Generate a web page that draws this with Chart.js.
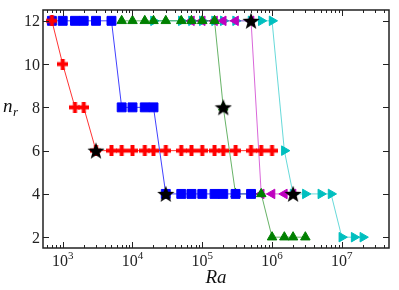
<!DOCTYPE html>
<html>
<head>
<meta charset="utf-8">
<script src="https://cdn.jsdelivr.net/npm/chart.js@4"></script>
<style>
  body { margin: 0; background: #fff; }
  #wrap { width: 399px; height: 290px; }
</style>
</head>
<body>
<div id="wrap"><canvas id="nrChart"></canvas></div>
<script>
// data (Ra, n_r)
const redRa = [700, 1000, 1500, 2000, 3000, 5000, 7000, 10000, 15000, 20000, 30000, 50000, 70000, 100000, 150000, 200000, 300000, 500000, 700000, 1000000];
const redN = [12, 10, 8, 8, 6, 6, 6, 6, 6, 6, 6, 6, 6, 6, 6, 6, 6, 6, 6, 6];

const blueRa = [700, 1000, 1500, 2000, 3000, 5000, 7000, 10000, 15000, 20000, 30000, 50000, 70000, 100000, 150000, 200000, 300000, 500000];
const blueN = [12, 12, 12, 12, 12, 12, 8, 8, 8, 8, 4, 4, 4, 4, 4, 4, 4, 4];

const greenRa = [7000, 10000, 15000, 20000, 30000, 50000, 70000, 100000, 150000, 200000, 300000, 700000, 1000000, 1500000, 2000000, 3000000];
const greenN = [12, 12, 12, 12, 12, 12, 12, 12, 12, 8, 4, 4, 2, 2, 2, 2];

const magentaRa = [70000, 100000, 150000, 200000, 300000, 500000, 700000, 1000000, 1500000, 2000000];
const magentaN = [12, 12, 12, 12, 12, 12, 4, 4, 4, 4];

const cyanRa = [20000, 50000, 70000, 100000, 150000, 200000, 300000, 500000, 700000, 1000000, 1500000, 2000000, 3000000, 5000000, 7000000, 10000000, 15000000, 20000000];
const cyanN = [12, 12, 12, 12, 12, 12, 12, 12, 12, 12, 6, 4, 4, 4, 4, 2, 2, 2];

const starRa = [3000, 30000, 200000, 500000, 2000000];
const starN = [6, 4, 8, 12, 4];

const yTicks = [2, 4, 6, 8, 10, 12];
const xDecades = [3, 4, 5, 6, 7];

function pts(xs, ys) {
  return xs.map((x, i) => ({ x: x, y: ys[i] }));
}

// filled plus marker (like matplotlib 'P')
function plusMarker(size, color) {
  const c = document.createElement('canvas');
  c.width = size; c.height = size;
  const g = c.getContext('2d');
  g.fillStyle = color;
  const t = size * 0.36;
  g.fillRect((size - t) / 2, 0, t, size);
  g.fillRect(0, (size - t) / 2, size, t);
  return c;
}

// filled five pointed star
function starMarker(size, color) {
  const c = document.createElement('canvas');
  c.width = size; c.height = size;
  const g = c.getContext('2d');
  const cx = size / 2, cy = size / 2 + 0.8;
  const ro = size / 2, ri = ro * 0.42;
  g.beginPath();
  for (let i = 0; i < 10; i++) {
    const r = i % 2 ? ri : ro;
    const a = -Math.PI / 2 + i * Math.PI / 5;
    g.lineTo(cx + r * Math.cos(a), cy + r * Math.sin(a));
  }
  g.closePath();
  g.fillStyle = color;
  g.fill();
  return c;
}

function series(data, line, fill, style, radius, rot, order, showLine) {
  return {
    data: data,
    borderColor: line,
    borderWidth: 1,
    pointBackgroundColor: fill,
    pointBorderColor: fill,
    pointBorderWidth: 1,
    pointStyle: style,
    pointRadius: radius,
    pointRotation: rot,
    showLine: showLine,
    order: order
  };
}

const frame = {
  id: 'frame',
  afterDraw(chart) {
    const ctx = chart.ctx;
    const a = chart.chartArea;
    const xs = chart.scales.x, ys = chart.scales.y;
    ctx.save();
    ctx.strokeStyle = '#222';
    ctx.lineWidth = 1;

    // inward ticks, x axis (log minor ticks too)
    ctx.beginPath();
    for (let e = 2; e <= 7; e++) {
      for (let k = 1; k <= 9; k++) {
        const v = k * Math.pow(10, e);
        if (v < xs.min || v > xs.max) continue;
        const px = Math.round(xs.getPixelForValue(v)) + 0.5;
        const len = k === 1 ? 6 : 3;
        ctx.moveTo(px, a.bottom); ctx.lineTo(px, a.bottom - len);
        ctx.moveTo(px, a.top); ctx.lineTo(px, a.top + len);
      }
    }
    yTicks.forEach(v => {
      const py = Math.round(ys.getPixelForValue(v)) + 0.5;
      ctx.moveTo(a.left, py); ctx.lineTo(a.left + 6, py);
      ctx.moveTo(a.right, py); ctx.lineTo(a.right - 6, py);
    });
    ctx.stroke();

    ctx.lineWidth = 1.5;
    ctx.strokeRect(a.left, a.top, a.right - a.left, a.bottom - a.top);

    // tick labels
    ctx.fillStyle = '#222';
    ctx.textBaseline = 'alphabetic';
    ctx.font = '16px "Liberation Serif", serif';
    ctx.textAlign = 'right';
    yTicks.forEach(v => {
      ctx.fillText(String(v), a.left - 3, ys.getPixelForValue(v) + 5.5);
    });
    xDecades.forEach(e => {
      const px = xs.getPixelForValue(Math.pow(10, e));
      ctx.font = '16px "Liberation Serif", serif';
      const w1 = ctx.measureText('10').width;
      ctx.font = '11px "Liberation Serif", serif';
      const w2 = ctx.measureText(String(e)).width;
      const x0 = px - (w1 + w2) / 2;
      ctx.textAlign = 'left';
      ctx.font = '16px "Liberation Serif", serif';
      ctx.fillText('10', x0, a.bottom + 18);
      ctx.font = '11px "Liberation Serif", serif';
      ctx.fillText(String(e), x0 + w1, a.bottom + 11);
    });

    // axis titles
    ctx.fillStyle = '#111';
    ctx.textAlign = 'center';
    ctx.font = 'italic 19px "Liberation Serif", serif';
    ctx.fillText('Ra', (a.left + a.right) / 2, a.bottom + 35);
    ctx.textAlign = 'left';
    ctx.fillText('n', 3, 112);
    ctx.font = 'italic 13px "Liberation Serif", serif';
    ctx.fillText('r', 13, 116);
    ctx.restore();
  }
};

new Chart(document.getElementById('nrChart').getContext('2d'), {
  type: 'scatter',
  data: {
    datasets: [
      series(pts(starRa, starN), '#000', '#000', starMarker(18, '#000'), 9, 0, 0, false),
      series(pts(redRa, redN), 'rgba(255,0,0,0.8)', '#ff0000', plusMarker(11, '#ff0000'), 5.5, 0, 1, true),
      series(pts(blueRa, blueN), 'rgba(0,0,255,0.75)', '#0000ff', 'rect', 6.3, 0, 2, true),
      series(pts(greenRa, greenN), 'rgba(0,128,0,0.6)', '#008000', 'triangle', 5.5, 0, 3, true),
      series(pts(magentaRa, magentaN), 'rgba(191,0,191,0.6)', '#bf00bf', 'triangle', 5.5, -90, 4, true),
      series(pts(cyanRa, cyanN), 'rgba(0,191,191,0.6)', '#00bfbf', 'triangle', 5.5, 90, 5, true)
    ]
  },
  options: {
    responsive: true,
    maintainAspectRatio: false,
    animation: false,
    layout: { padding: { top: 3, right: 4, left: 0, bottom: 0 } },
    plugins: {
      legend: { display: false },
      tooltip: { enabled: false }
    },
    scales: {
      x: {
        type: 'logarithmic',
        min: 522,
        max: 4.74e7,
        grid: { display: false },
        border: { display: false },
        ticks: { display: false },
        afterFit: s => { s.height = 42; }
      },
      y: {
        min: 1.5,
        max: 12.5,
        grid: { display: false },
        border: { display: false },
        ticks: { display: false },
        afterFit: s => { s.width = 43; }
      }
    }
  },
  plugins: [frame]
});
</script>
</body>
</html>
